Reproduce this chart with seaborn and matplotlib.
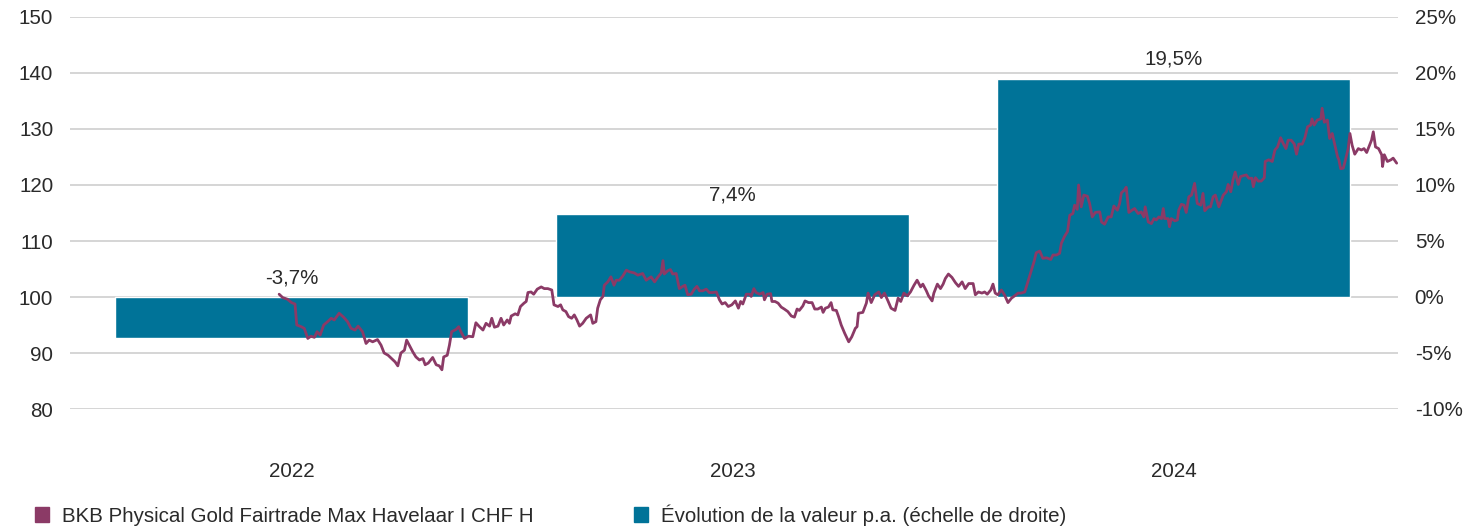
import numpy as np
import matplotlib
matplotlib.use("Agg")
import matplotlib.pyplot as plt
from matplotlib.patches import Patch
from matplotlib.ticker import FuncFormatter
import seaborn as sns

# yearly performance (right axis)
years = ["2022", "2023", "2024"]
perf_pa = [-3.7, 7.4, 19.5]
perf_labels = ["-3,7%", "7,4%", "19,5%"]

# fund NAV, indexed to 100 (left axis), dates as decimal years
nav_dates = np.array([
    2022.472, 2022.480, 2022.491, 2022.500, 2022.508, 2022.512, 2022.522, 2022.529, 2022.537, 2022.544,
    2022.552, 2022.558, 2022.565, 2022.573, 2022.582, 2022.590, 2022.597, 2022.608, 2022.618, 2022.627,
    2022.635, 2022.644, 2022.651, 2022.661, 2022.669, 2022.676, 2022.684, 2022.695, 2022.703, 2022.710,
    2022.719, 2022.727, 2022.735, 2022.741, 2022.748, 2022.756, 2022.761, 2022.767, 2022.775, 2022.782,
    2022.790, 2022.798, 2022.803, 2022.810, 2022.820, 2022.828, 2022.835, 2022.841, 2022.845, 2022.853,
    2022.858, 2022.863, 2022.873, 2022.879,
    2022.884, 2022.892, 2022.901, 2022.911, 2022.918, 2022.926, 2022.934, 2022.941, 2022.949, 2022.954,
    2022.960, 2022.968, 2022.975, 2022.981, 2022.989, 2022.994, 2022.998, 2023.007, 2023.013, 2023.019,
    2023.027, 2023.032, 2023.036, 2023.043, 2023.049, 2023.057, 2023.066, 2023.073, 2023.081, 2023.090,
    2023.095, 2023.104, 2023.110, 2023.115, 2023.122, 2023.128, 2023.135, 2023.141, 2023.147, 2023.153,
    2023.160, 2023.168, 2023.178, 2023.183, 2023.190, 2023.194, 2023.200, 2023.206, 2023.209, 2023.217,
    2023.224, 2023.231, 2023.236, 2023.243, 2023.251, 2023.259, 2023.266, 2023.277, 2023.285, 2023.296,
    2023.304,
    2023.315, 2023.323, 2023.330, 2023.338, 2023.342, 2023.345, 2023.353, 2023.359, 2023.364, 2023.372,
    2023.379, 2023.387, 2023.392, 2023.398, 2023.406, 2023.413, 2023.419, 2023.425, 2023.432, 2023.440,
    2023.447, 2023.455, 2023.463, 2023.470, 2023.476, 2023.483, 2023.490, 2023.498, 2023.506, 2023.513,
    2023.518, 2023.523, 2023.531, 2023.538, 2023.542, 2023.548, 2023.553, 2023.561, 2023.569, 2023.572,
    2023.578, 2023.586, 2023.589, 2023.596, 2023.603, 2023.610, 2023.617, 2023.625, 2023.633, 2023.640,
    2023.646, 2023.651, 2023.659, 2023.664, 2023.672, 2023.680, 2023.686, 2023.693, 2023.701, 2023.705,
    2023.710, 2023.717, 2023.723, 2023.727, 2023.735, 2023.740,
    2023.746, 2023.754, 2023.763, 2023.770, 2023.778, 2023.782, 2023.785, 2023.795, 2023.803, 2023.807,
    2023.814, 2023.822, 2023.831, 2023.837, 2023.844, 2023.852, 2023.859, 2023.868, 2023.875, 2023.881,
    2023.888, 2023.896, 2023.903, 2023.911, 2023.918, 2023.926, 2023.931, 2023.939, 2023.944, 2023.952,
    2023.956, 2023.964, 2023.971, 2023.977, 2023.982, 2023.989, 2023.997, 2024.005, 2024.012, 2024.020,
    2024.027, 2024.035, 2024.045, 2024.050, 2024.057, 2024.065, 2024.071, 2024.077, 2024.085, 2024.090,
    2024.095, 2024.101,
    2024.109, 2024.116, 2024.124, 2024.132, 2024.139, 2024.147, 2024.154, 2024.162, 2024.169, 2024.177,
    2024.183, 2024.188, 2024.196, 2024.203, 2024.211, 2024.221, 2024.226, 2024.234, 2024.241, 2024.245,
    2024.252, 2024.259, 2024.264, 2024.271, 2024.275, 2024.281, 2024.284, 2024.290, 2024.296, 2024.304,
    2024.309, 2024.315, 2024.322, 2024.332, 2024.336, 2024.343, 2024.351, 2024.358, 2024.364, 2024.372,
    2024.377, 2024.381, 2024.388, 2024.392, 2024.398, 2024.405, 2024.411, 2024.419, 2024.426, 2024.432,
    2024.435, 2024.442, 2024.449, 2024.455, 2024.460, 2024.466, 2024.472, 2024.476, 2024.479, 2024.487,
    2024.490, 2024.494, 2024.502, 2024.508, 2024.511, 2024.517, 2024.523, 2024.528, 2024.534,
    2024.540, 2024.547, 2024.553, 2024.561, 2024.566, 2024.570, 2024.578, 2024.583, 2024.589, 2024.594,
    2024.602, 2024.612, 2024.619, 2024.623, 2024.629, 2024.634, 2024.639, 2024.646, 2024.651, 2024.659,
    2024.664, 2024.670, 2024.677, 2024.680, 2024.685, 2024.691, 2024.698, 2024.705, 2024.707, 2024.715,
    2024.723, 2024.729, 2024.735, 2024.742, 2024.748, 2024.754, 2024.759, 2024.766, 2024.773, 2024.778,
    2024.783, 2024.791, 2024.797, 2024.803, 2024.810, 2024.813, 2024.818, 2024.825, 2024.833, 2024.836,
    2024.841, 2024.848, 2024.853, 2024.859, 2024.865, 2024.871, 2024.874, 2024.878, 2024.884, 2024.889,
    2024.895, 2024.899, 2024.904, 2024.910, 2024.918, 2024.925, 2024.931, 2024.937, 2024.942, 2024.948,
    2024.952, 2024.957, 2024.964, 2024.971, 2024.973, 2024.977, 2024.984, 2024.992, 2024.997, 2025.005,
])
nav_values = np.array([
    100.5, 99.9, 99.6, 99.0, 98.75, 95.0, 94.7, 94.4, 92.6, 93.0,
    92.8, 93.8, 93.2, 95.0, 95.6, 96.2, 95.9, 97.1, 96.4, 95.6,
    94.4, 94.1, 94.8, 93.8, 91.7, 92.3, 92.0, 92.4, 91.4, 90.0,
    89.6, 89.0, 88.4, 87.7, 90.0, 90.5, 92.3, 91.4, 90.2, 89.3,
    88.75, 89.0, 87.9, 88.2, 89.2, 87.9, 87.7, 87.0, 89.3, 89.6,
    91.4, 93.8, 94.2, 94.7,
    93.8, 92.6, 93.0, 92.9, 95.4, 94.7, 94.1, 95.3, 94.8, 96.2,
    94.6, 94.8, 96.2, 95.0, 95.9, 95.3, 96.6, 97.0, 96.8, 98.3,
    98.9, 99.2, 100.8, 100.9, 100.5, 101.4, 101.8, 101.5, 101.5, 101.25,
    98.6, 98.3, 98.6, 97.7, 97.4, 96.5, 96.2, 96.8, 95.9, 94.8,
    95.3, 96.2, 96.8, 95.3, 95.6, 98.0, 99.5, 100.1, 102.1, 102.7,
    103.6, 102.1, 103.0, 103.0, 103.75, 104.8, 104.5, 104.3, 103.9, 104.2,
    103.0,
    103.6, 102.7, 103.5, 104.3, 106.5, 104.1, 104.7, 104.9, 104.1, 104.2,
    101.5, 101.9, 102.1, 100.4, 100.5, 101.4, 101.9, 101.1, 101.1, 101.4,
    100.8, 100.8, 100.9, 99.5, 98.75, 99.0, 98.3, 98.6, 99.3, 98.0,
    99.2, 98.75, 100.5, 100.5, 100.1, 101.5, 100.8, 100.5, 100.8, 99.5,
    100.5, 100.6, 99.2, 99.2, 98.9, 98.2, 97.85, 97.4, 96.6, 96.4,
    97.85, 97.6, 98.4, 99.3, 99.0, 99.0, 97.85, 97.85, 98.2, 97.25,
    98.0, 98.2, 99.0, 97.7, 97.6, 96.5,
    95.0, 93.5, 92.0, 92.9, 94.4, 94.7, 97.1, 97.25, 98.9, 100.7,
    99.0, 100.4, 100.9, 99.9, 100.7, 99.3, 98.0, 97.6, 99.8, 99.2,
    100.7, 100.2, 100.9, 102.1, 103.0, 101.8, 102.3, 101.1, 100.2, 99.3,
    100.7, 102.3, 101.5, 102.3, 103.3, 104.1, 103.5, 102.55, 101.9, 102.7,
    101.5, 102.4, 102.4, 100.4, 100.9, 100.7, 100.9, 100.5, 101.25, 102.3,
    100.7, 100.4,
    101.25, 100.4, 99.0, 99.8, 100.2, 100.7, 100.7, 100.9, 102.7, 104.8,
    106.3, 107.9, 108.2, 106.9, 107.0, 106.7, 107.5, 107.5, 107.8, 109.6,
    110.8, 111.7, 114.6, 114.9, 116.4, 115.65, 120.0, 116.1, 118.2, 118.0,
    116.7, 114.3, 115.1, 115.2, 113.4, 113.0, 114.3, 114.3, 116.25, 115.5,
    116.7, 118.6, 119.1, 119.6, 115.1, 115.5, 115.8, 114.9, 115.2, 114.3,
    116.1, 113.4, 113.1, 114.0, 113.75, 114.3, 114.0, 115.8, 114.0, 114.0,
    112.55, 114.0, 113.6, 113.75, 115.5, 116.55, 116.4, 115.1, 117.9,
    118.2, 120.3, 116.7, 116.4, 118.5, 115.4, 116.1, 116.1, 117.9, 118.2,
    116.1, 118.2, 118.8, 120.1, 118.8, 120.9, 122.3, 120.1, 121.5, 121.7,
    121.8, 121.2, 121.2, 119.7, 121.3, 120.7, 120.7, 121.3, 124.2, 124.5,
    124.2, 126.25, 126.8, 128.45, 127.4, 126.5, 128.0, 128.0, 127.3, 125.5,
    127.3, 127.3, 128.45, 130.4, 130.7, 131.8, 130.7, 131.6, 131.8, 133.7,
    131.2, 131.6, 128.3, 129.2, 127.1, 125.05, 124.5, 122.9, 123.0, 124.5,
    126.5, 129.2, 127.1, 125.5, 126.5, 126.25, 126.5, 125.8, 126.8, 128.0,
    129.5, 126.8, 126.5, 125.4, 123.3, 125.4, 124.2, 124.5, 124.8, 123.9,
])

fund_label = "BKB Physical Gold Fairtrade Max Havelaar I CHF H"
bar_label = "Évolution de la valeur p.a. (échelle de droite)"

bar_color = "#007398"
line_color = "#8B3A66"
grid_color = "#d2d2d2"
text_color = "#2a2a2a"
fs = 14.8

sns.set_theme(style="white")
plt.rcParams["font.family"] = ["Liberation Sans", "DejaVu Sans"]

fig = plt.figure(figsize=(14.71, 5.26), dpi=100)
ax = fig.add_axes([70 / 1471, 1 - 409 / 526, 1328 / 1471, 392 / 526])

# bars: yearly performance, right-hand scale
sns.barplot(x=years, y=perf_pa, color=bar_color, saturation=1, width=0.8, ax=ax, zorder=2)
ax.set_ylim(-10, 25)
ax.set_yticks(range(-10, 30, 5))
ax.yaxis.set_major_formatter(FuncFormatter(lambda v, _: f"{v:.0f}%"))
ax.grid(axis="y", color=grid_color, lw=1.3)
ax.grid(axis="x", visible=False)
ax.set_axisbelow(True)
ax.set_xlabel("")
ax.set_ylabel("")
for s in ax.spines.values():
    s.set_visible(False)

for i, (v, lab) in enumerate(zip(perf_pa, perf_labels)):
    ax.annotate(lab, (i, max(v, 0)), xytext=(0, 7), textcoords="offset points",
                ha="center", va="bottom", fontsize=fs, color=text_color)

# line: fund NAV, left-hand scale
ax2 = ax.twinx()
sns.lineplot(x=nav_dates - 2022.5, y=nav_values, ax=ax2, color=line_color, lw=2,
             estimator=None, sort=False)
ax2.set_ylim(80, 150)
ax2.set_yticks(range(80, 151, 10))
ax2.grid(False)
ax2.set_ylabel("")
for s in ax2.spines.values():
    s.set_visible(False)

# swap sides: NAV scale on the left, percent scale on the right
ax.yaxis.tick_right()
ax.yaxis.set_label_position("right")
ax2.yaxis.tick_left()
ax.tick_params(axis="y", length=0, pad=12, labelsize=fs, labelcolor=text_color,
               left=False, labelleft=False, right=False, labelright=True)
ax.tick_params(axis="x", length=0, pad=38, labelsize=fs, labelcolor=text_color)
ax2.tick_params(axis="y", length=0, pad=12, labelsize=fs, labelcolor=text_color,
                right=False, labelright=False, left=False, labelleft=True)

ax.set_xlim(-0.502, 2.508)
ax2.set_xlim(-0.502, 2.508)

handles = [Patch(color=line_color), Patch(color=bar_color)]
fig.legend(handles=handles, labels=[fund_label, bar_label], loc="center left",
           bbox_to_anchor=(35 / 1471, 11 / 526), ncol=2, frameon=False, fontsize=fs,
           handlelength=0.7, handleheight=0.7, handletextpad=0.6, columnspacing=4.9,
           borderpad=0, borderaxespad=0, labelcolor=text_color)

fig.savefig("out.png", dpi=100)
